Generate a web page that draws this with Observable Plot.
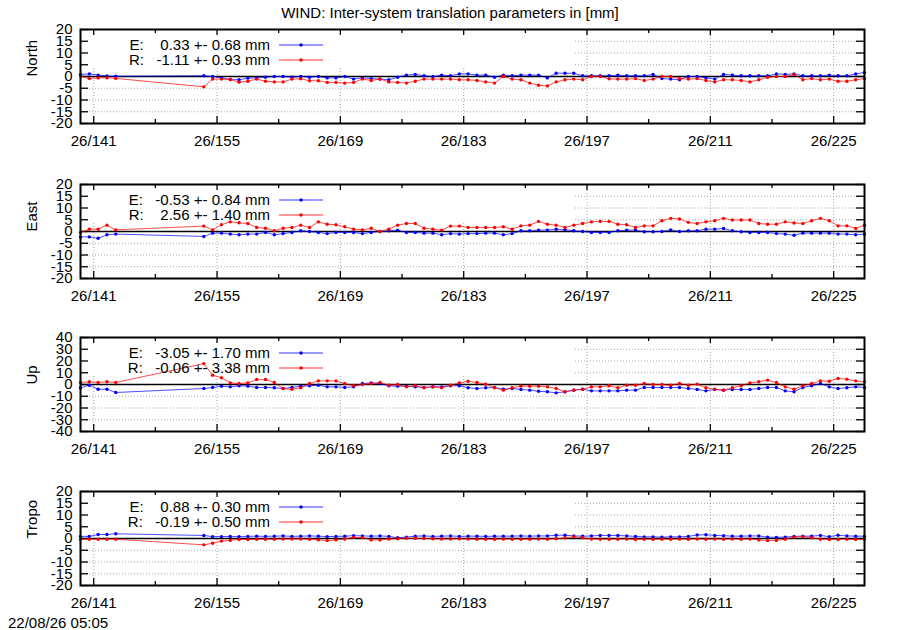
<!DOCTYPE html>
<html><head><meta charset="utf-8">
<script src="https://cdn.jsdelivr.net/npm/d3@7"></script>
<script src="https://cdn.jsdelivr.net/npm/@observablehq/plot@0.6"></script>
<style>
body{margin:0;background:#fff;}
#wrap{position:relative;width:900px;height:630px;font-family:"Liberation Sans",Arial,sans-serif;font-size:15px;color:#000;overflow:hidden;}
#title{position:absolute;left:0;top:4px;width:900px;text-align:center;line-height:18px;}
#stamp{position:absolute;left:8px;top:614px;line-height:18px;}
</style></head>
<body><div id="wrap"><div id="title">WIND: Inter-system translation parameters in [mm]</div><div id="stamp">22/08/26 05:05</div></div>
<script>
// x positions (day of year, mid-day)
const days = [139.5,140.5,141.5,142.5,143.5,
 153.5,154.5,155.5,156.5,157.5,158.5,159.5,160.5,161.5,162.5,
 163.5,164.5,165.5,166.5,167.5,168.5,169.5,170.5,171.5,172.5,
 173.5,174.5,175.5,176.5,177.5,178.5,179.5,180.5,181.5,182.5,
 183.5,184.5,185.5,186.5,187.5,188.5,189.5,190.5,191.5,192.5,
 193.5,194.5,195.5,196.5,197.5,198.5,199.5,200.5,201.5,202.5,
 203.5,204.5,205.5,206.5,207.5,208.5,209.5,210.5,211.5,212.5,
 213.5,214.5,215.5,216.5,217.5,218.5,219.5,220.5,221.5,222.5,
 223.5,224.5,225.5,226.5,227.5,228.5];

const majorDays = [141,155,169,183,197,211,225];
const minorDays = [148,162,176,190,204,218];
const xTickLabels = ["26/141","26/155","26/169","26/183","26/197","26/211","26/225"];
const ticks20 = [-20,-15,-10,-5,0,5,10,15,20];
const ticks40 = [-40,-30,-20,-10,0,10,20,30,40];

const panelNames = ["North","East","Up","Tropo"];
const eMean = [0.33,-0.53,-3.05,0.88];
const eStd  = [0.68,0.84,1.70,0.30];
const rMean = [-1.11,2.56,-0.06,-0.19];
const rStd  = [0.93,1.40,3.38,0.50];

const northE = [0.9,1.1,0.6,0.2,0.1,
 0.3,0.0,-0.6,-1.3,-1.4,-0.7,-0.6,-0.3,0.0,0.0,-0.3,0.0,-0.3,0.0,-0.6,
 -0.6,0.0,-1.1,-0.6,-0.9,-1.1,-1.4,-0.3,0.6,0.9,0.3,0.0,0.6,0.3,1.1,1.1,0.6,0.6,-0.3,0.6,0.3,0.6,0.6,0.6,-0.6,1.4,1.4,1.4,0.3,0.3,0.3,
 0.3,0.6,0.3,0.3,0.3,0.9,-0.9,-1.1,-1.4,0.0,0.0,-0.6,-1.1,0.9,0.6,0.3,0.3,0.3,0.3,1.1,0.9,1.1,0.3,0.3,0.3,0.6,0.3,0.3,1.1,1.7];
const northR = [0.2,-0.9,-0.6,-0.5,-0.8,
 -4.4,-1.1,-1.1,-1.3,-2.4,-2.0,-1.1,-2.0,-2.3,-2.3,-1.1,-1.0,-1.8,-1.8,-2.5,
 -2.5,-2.8,-2.5,-1.1,-1.7,-1.1,-2.3,-2.5,-2.8,-2.0,-1.1,-1.1,-1.1,-1.1,-1.4,-1.4,-1.7,-2.3,-2.8,0.0,-1.1,-1.4,-2.8,-3.7,-4.0,-2.3,-1.4,-1.1,-1.4,0.0,0.0,
 -1.0,-1.1,-1.1,-0.9,-1.7,-1.1,0.0,0.0,-0.9,-1.1,-0.9,-1.7,-2.3,-1.4,-1.4,-1.7,-2.3,-1.4,-0.3,0.0,0.0,0.9,-1.4,-0.9,-1.4,-1.1,-2.0,-2.0,-1.4,-0.9];
const eastE = [-2.3,-2.3,-2.9,-1.4,-1.1,
 -2.1,-0.7,-0.7,-1.1,-1.4,-1.1,-1.1,-0.4,-1.4,-0.9,-0.4,0.3,0.0,-0.4,-0.9,-0.4,-0.4,-0.4,-0.9,-0.4,0.0,0.3,0.6,-0.4,-0.4,-0.7,-0.7,-1.4,-0.9,-1.1,-0.9,
 -0.9,-0.7,-0.7,-1.4,-0.9,0.3,0.3,0.6,0.6,1.0,0.7,0.3,0.0,-0.4,-0.4,-0.4,0.3,0.6,0.6,-0.1,-0.1,0.0,0.7,0.0,0.3,0.3,1.0,1.0,1.3,0.3,-0.1,-0.4,-0.4,-0.4,-0.9,-1.1,-1.6,-0.7,-0.7,-0.7,-0.7,-1.1,-1.1,-1.4,-1.1];
const eastR = [-0.4,1.0,1.0,2.7,0.7,
 2.3,0.7,2.9,4.1,3.7,3.4,1.7,1.4,0.3,1.4,1.7,2.7,1.7,4.1,3.1,2.9,2.0,1.0,0.7,1.4,0.0,1.0,2.7,3.4,3.4,1.4,1.0,0.6,2.3,2.3,1.7,
 1.7,1.7,1.7,2.0,1.0,2.4,2.7,4.3,3.1,2.7,1.7,2.7,3.4,4.1,4.3,4.3,3.1,2.9,1.7,2.4,2.4,4.6,5.6,5.3,3.9,3.4,4.1,4.6,5.6,4.9,4.9,4.9,3.4,3.1,3.1,4.1,3.6,3.4,4.6,5.6,4.6,2.4,2.4,1.3,2.7];
const upE = [-2.8,-0.6,-4.0,-4.0,-6.8,
 -3.4,-2.5,-1.4,-2.0,-1.1,-1.4,-2.5,-2.5,-2.8,-3.4,-2.5,-1.4,-1.1,-0.6,-2.0,-2.0,-2.5,-2.0,0.8,1.4,0.8,-1.1,-1.4,-1.4,-2.0,-2.5,-2.0,-2.0,-1.1,-1.1,-2.8,
 -3.4,-2.8,-2.5,-4.0,-3.4,-4.2,-4.8,-5.7,-6.2,-7.1,-6.2,-4.8,-4.0,-5.4,-5.4,-5.4,-5.4,-4.8,-4.8,-2.5,-2.5,-2.5,-2.5,-2.5,-3.4,-4.2,-5.4,-4.2,-4.8,-4.2,-4.2,-4.2,-3.4,-2.5,-2.5,-5.4,-6.2,-2.5,-1.1,0.8,-2.0,-3.4,-2.8,-2.0,-2.5];
const upR = [1.7,2.3,1.7,2.3,1.7,
 17.8,7.9,5.7,1.4,0.8,1.4,4.2,4.2,1.7,-3.4,-4.0,-2.8,0.8,3.1,3.1,3.1,0.8,-1.1,0.0,0.8,1.7,-0.6,0.0,-2.0,-1.1,-2.8,-2.0,-2.8,-0.6,1.4,2.8,
 1.7,0.3,-2.8,-4.8,-2.8,-1.4,-1.4,-1.4,-2.0,-3.4,-6.2,-4.8,-4.0,-2.0,-2.0,-1.1,-2.8,-0.6,-0.6,0.8,0.0,0.0,-0.6,0.8,-0.6,0.3,-2.8,-4.0,-4.8,-2.8,-1.1,1.4,2.3,3.7,1.7,-2.0,-4.0,-1.1,0.8,3.1,2.8,5.1,4.5,3.1,2.3];
const tropoE = [0.9,0.9,1.7,1.7,2.0,
 1.3,0.8,0.8,0.9,0.8,0.9,1.0,0.9,1.0,1.1,0.9,1.0,1.1,1.0,0.8,0.9,1.0,1.2,1.1,1.0,1.1,0.9,0.3,0.6,1.0,1.1,0.9,1.0,1.1,0.9,1.0,
 1.0,0.9,1.0,1.0,1.0,1.1,1.0,1.1,1.1,1.4,1.4,1.1,1.0,1.1,1.3,1.3,1.3,1.1,0.9,0.7,0.7,0.6,0.7,0.7,0.9,1.5,1.6,1.3,1.2,1.0,1.0,1.1,1.1,0.6,0.5,0.6,0.9,1.0,1.0,1.3,0.8,1.4,1.1,1.0,1.0];
const tropoR = [-0.4,-0.3,-0.3,-0.3,-0.3,
 -2.7,-2.0,-1.1,-0.8,-0.4,-0.4,-0.3,-0.3,-0.3,-0.2,-0.2,-0.2,-0.3,-0.6,-0.9,-0.6,-0.2,0.5,0.4,-0.6,-0.6,-0.2,-0.1,0.1,0.1,0.0,-0.1,-0.2,-0.2,-0.1,-0.2,
 -0.3,-0.3,-0.3,-0.2,-0.3,-0.3,-0.3,-0.2,-0.3,-0.1,0.2,0.8,0.3,-0.2,-0.3,-0.3,-0.3,-0.2,-0.4,-0.3,-0.3,-0.3,-0.3,-0.2,-0.3,-0.2,-0.3,-0.2,-0.3,-0.2,-0.3,-0.2,-0.6,-0.9,-0.8,-0.3,0.6,0.8,0.3,-0.3,-0.4,-0.4,-0.3,-0.4,-0.4];

const seriesE = [northE, eastE, upE, tropoE];
const seriesR = [northR, eastR, upR, tropoR];
const yTickSets = [ticks20, ticks20, ticks40, ticks20];

// layout
const boxTops = [29, 184, 337, 491];
const M_TOP = 8, M_BOTTOM = 32, BOX_H = 94, BOX_W = 784;
const ML = 80, MR = 36;
const FS = 15;
const BLUE = "#0000ff", RED = "#ff0000", GRID = "#a8a8a8";
const wrap = document.getElementById("wrap");

panelNames.forEach((name, i) => {
  const rows = days.map((d, j) => ({day: d, e: seriesE[i][j], r: seriesR[i][j]}));
  const yt = yTickSets[i];
  const lim = d3.max(yt);
  const chart = Plot.plot({
    width: 900, height: M_TOP + BOX_H + M_BOTTOM,
    marginLeft: ML, marginRight: MR, marginTop: M_TOP, marginBottom: M_BOTTOM,
    style: {fontFamily: "Liberation Sans, Arial, sans-serif", fontSize: FS + "px", color: "black", background: "white", overflow: "visible"},
    x: {domain: [139.5, 228.5]},
    y: {domain: [-lim, lim]},
    marks: [
      Plot.ruleX(majorDays, {stroke: GRID, strokeDasharray: "1,2"}),
      Plot.ruleY(yt.filter(v => v !== 0 && Math.abs(v) !== lim), {stroke: GRID, strokeDasharray: "1,2"}),
      Plot.frame({fill: "white", stroke: null, insetRight: 291, insetBottom: 56}),
      Plot.ruleX(majorDays, {stroke: "black", strokeWidth: 1.3, insetTop: BOX_H - 7}),
      Plot.ruleX(majorDays, {stroke: "black", strokeWidth: 1.3, insetBottom: BOX_H - 6}),
      Plot.ruleX(minorDays, {stroke: "black", strokeWidth: 1.3, insetTop: BOX_H - 4}),
      Plot.ruleX(minorDays, {stroke: "black", strokeWidth: 1.3, insetBottom: BOX_H - 4}),
      Plot.ruleY(yt, {stroke: "black", strokeWidth: 1.3, insetRight: BOX_W - 8}),
      Plot.ruleY(yt, {stroke: "black", strokeWidth: 1.3, insetLeft: BOX_W - 8}),
      Plot.ruleY([0], {stroke: "black", strokeWidth: 1.7}),
      Plot.line(rows, {x: "day", y: "e", stroke: BLUE, strokeWidth: 1, strokeOpacity: 0.7}),
      Plot.dot(rows, {x: "day", y: "e", r: 1.7, fill: BLUE}),
      Plot.line(rows, {x: "day", y: "r", stroke: RED, strokeWidth: 1, strokeOpacity: 0.7}),
      Plot.dot(rows, {x: "day", y: "r", r: 1.7, fill: RED}),
      Plot.frame({stroke: "black", strokeWidth: 2}),
      Plot.axisX({ticks: majorDays, tickFormat: d => xTickLabels[majorDays.indexOf(d)], tickSize: 0, tickPadding: 12, label: null, fontSize: FS}),
      Plot.axisY({ticks: yt, tickFormat: d => String(d), tickSize: 0, tickPadding: 8, label: null, fontSize: FS}),
      Plot.text([name], {frameAnchor: "left", dx: -48, rotate: -90, text: d => d, fontSize: FS})
    ]
  });
  chart.style.position = "absolute";
  chart.style.left = "0px";
  chart.style.top = (boxTops[i] - M_TOP) + "px";

  // key (legend) inside the plot, upper left
  const svg = d3.select(chart);
  const g = svg.append("g").attr("font-size", FS).attr("fill", "black");
  const entries = [["E", eMean[i], eStd[i], BLUE], ["R", rMean[i], rStd[i], RED]];
  entries.forEach(([lab, m, s, c], k) => {
    const y = M_TOP + 16 + k * 15;
    g.append("text")
      .attr("x", 270).attr("y", y).attr("dy", "0.35em")
      .attr("text-anchor", "end")
      .attr("xml:space", "preserve").style("white-space", "pre")
      .text(`${lab}: ${m.toFixed(2).padStart(7)} +- ${s.toFixed(2)} mm`);
    g.append("line").attr("x1", 279).attr("x2", 323).attr("y1", y).attr("y2", y)
      .attr("stroke", c).attr("stroke-width", 1).attr("stroke-opacity", 0.8);
    g.append("circle").attr("cx", 301).attr("cy", y).attr("r", 1.7).attr("fill", c);
  });
  wrap.appendChild(chart);
});
</script></body></html>
